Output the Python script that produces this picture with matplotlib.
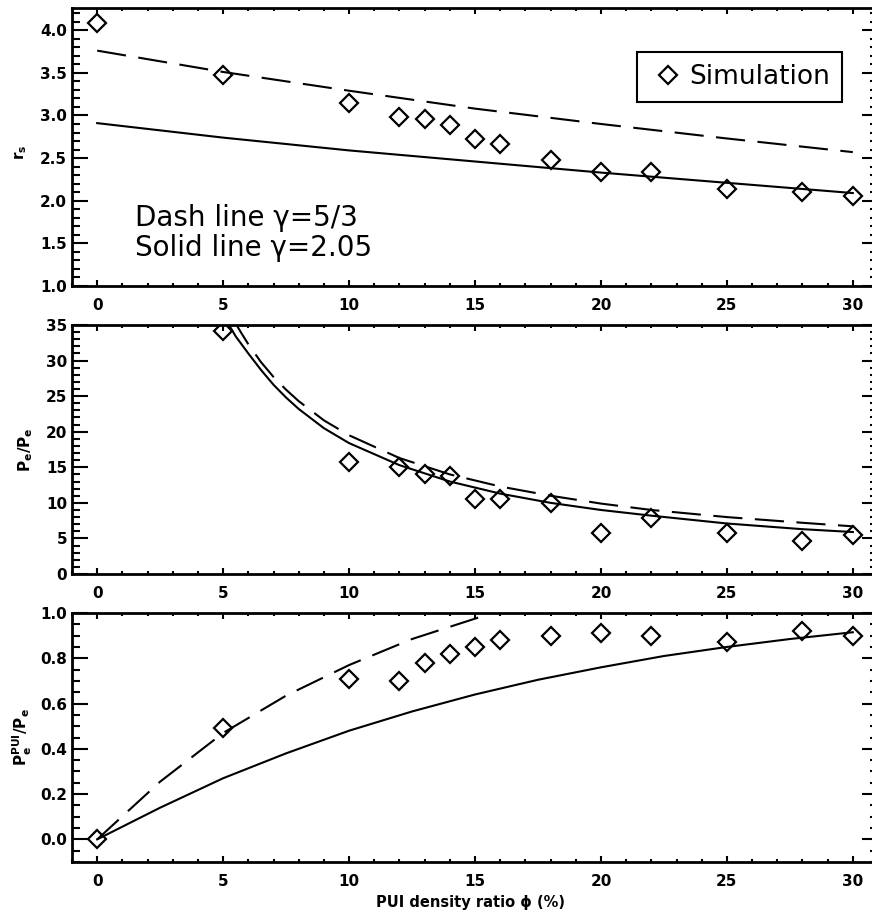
import numpy as np
import matplotlib
matplotlib.use("Agg")
import matplotlib.pyplot as plt
from matplotlib.ticker import MultipleLocator, FormatStrFormatter
from matplotlib.lines import Line2D

plt.rcParams['font.family'] = ['DejaVu Sans']

# ---------------- data ----------------
phi = [0, 5, 10, 12, 13, 14, 15, 16, 18, 20, 22, 25, 28, 30]

# panel 1: shock compression ratio r_s
rs_sim = [4.08, 3.48, 3.15, 2.98, 2.96, 2.89, 2.72, 2.66, 2.48, 2.34, 2.34, 2.14, 2.10, 2.06]
rs_x = [0, 5, 10, 15, 20, 25, 30]
rs_dash = [3.76, 3.51, 3.29, 3.08, 2.90, 2.73, 2.57]
rs_solid = [2.91, 2.74, 2.59, 2.46, 2.33, 2.21, 2.09]

# panel 2: P_e / P_e
pe_sim = [34.1, 15.7, 15.1, 14.1, 13.8, 10.5, 10.6, 10.0, 5.8, 7.9, 5.8, 4.7, 5.5]
pe_sim_x = phi[1:]
pe_solid_x = [5.15, 5.5, 6, 6.5, 7, 7.5, 8, 9, 10, 12, 14, 16, 18, 20, 22, 25, 28, 30]
pe_solid = [35.5, 33.4, 31.0, 28.7, 26.6, 24.8, 23.2, 20.5, 18.4, 15.3, 13.0, 11.3, 10.0, 9.0, 8.2, 7.1, 6.3, 5.9]
pe_dash_x = [5.4, 5.7, 6, 6.5, 7, 7.5, 8, 9, 10, 12, 14, 16, 18, 20, 22, 25, 28, 30]
pe_dash = [35.8, 34.0, 32.3, 29.8, 27.7, 25.9, 24.3, 21.6, 19.5, 16.3, 14.0, 12.3, 11.0, 9.9, 9.0, 8.0, 7.2, 6.7]

# panel 3: P_e^PUI / P_e
pp_sim = [0.0, 0.49, 0.71, 0.70, 0.78, 0.82, 0.85, 0.88, 0.90, 0.91, 0.90, 0.87, 0.92, 0.90]
pp_solid_x = [0, 2.5, 5, 7.5, 10, 12.5, 15, 17.5, 20, 22.5, 25, 27.5, 30]
pp_solid = [0.0, 0.14, 0.27, 0.38, 0.48, 0.565, 0.64, 0.705, 0.76, 0.81, 0.85, 0.885, 0.915]
pp_dash_x = [0, 2.5, 5, 7.5, 10, 12.5, 15, 15.4]
pp_dash = [0.0, 0.255, 0.47, 0.635, 0.77, 0.885, 0.975, 0.99]

xticks = [0, 5, 10, 15, 20, 25, 30]

# ---------------- figure ----------------
W, H = 872, 917
fig = plt.figure(figsize=(W / 100, H / 100), dpi=100)

def px_axes(top, bottom, left=72, right=878):
    return [left / W, 1 - bottom / H, (right - left) / W, (bottom - top) / H]

ax1 = fig.add_axes(px_axes(8, 286))
ax2 = fig.add_axes(px_axes(325, 574))
ax3 = fig.add_axes(px_axes(613, 862))

lw_line = 1.5
dash = (14, 6)

def style(ax, ylim, ymaj, ymin, fmt):
    ax.set_xlim(-1, 31)
    ax.set_ylim(*ylim)
    ax.set_xticks(xticks)
    ax.xaxis.set_minor_locator(MultipleLocator(1))
    ax.yaxis.set_major_locator(MultipleLocator(ymaj))
    ax.yaxis.set_minor_locator(MultipleLocator(ymin))
    ax.yaxis.set_major_formatter(FormatStrFormatter(fmt))
    for s in ax.spines.values():
        s.set_linewidth(2.0)
    ax.tick_params(axis='both', which='both', direction='in', top=True, right=True, width=1.5)
    ax.tick_params(axis='x', which='major', length=4.5, pad=9)
    ax.tick_params(axis='x', which='minor', length=2.3)
    ax.tick_params(axis='y', which='major', length=11.5, pad=3.5)
    ax.tick_params(axis='y', which='minor', length=5.8)
    for lab in ax.get_xticklabels() + ax.get_yticklabels():
        lab.set_fontweight('bold')
        lab.set_fontsize(11)

mk = dict(marker='D', markersize=9.5, markerfacecolor='none', markeredgecolor='black',
          markeredgewidth=1.6, linestyle='none')

# panel 1
ax1.plot(rs_x, rs_dash, color='black', lw=lw_line, dashes=dash)
ax1.plot(rs_x, rs_solid, color='black', lw=lw_line)
ax1.plot(phi, rs_sim, **mk)
style(ax1, (1.0, 4.26), 0.5, 0.1, '%.1f')
tx = (135 - 72) / 806 * 32 - 1
ax1.text(tx, 1.0 + (286 - 226) / 85.3, 'Dash line γ=5/3',
         fontsize=20, ha='left', va='baseline')
ax1.text(tx, 1.0 + (286 - 256) / 85.3, 'Solid line γ=2.05',
         fontsize=20, ha='left', va='baseline')
handle = Line2D([], [], **mk)
leg = ax1.legend([handle], ['Simulation'], loc='upper right',
                 bbox_to_anchor=(842 / W, 1 - 52 / H), bbox_transform=fig.transFigure,
                 borderaxespad=0, fancybox=False, frameon=True, fontsize=19,
                 handlelength=1.45, handletextpad=0.07, borderpad=0.45, numpoints=1,
                 framealpha=1)
leg.get_frame().set_edgecolor('black')
leg.get_frame().set_linewidth(1.5)

# panel 2
ax2.plot(pe_dash_x, pe_dash, color='black', lw=lw_line, dashes=dash)
ax2.plot(pe_solid_x, pe_solid, color='black', lw=lw_line)
ax2.plot(pe_sim_x, pe_sim, **mk)
style(ax2, (0, 35), 5, 1, '%d')

# panel 3
ax3.plot(pp_dash_x, pp_dash, color='black', lw=lw_line, dashes=dash)
ax3.plot(pp_solid_x, pp_solid, color='black', lw=lw_line)
ax3.plot(phi, pp_sim, **mk)
style(ax3, (-0.1, 1.0), 0.2, 0.05, '%.1f')

# y labels
fig.text(21 / W, 1 - 152 / H, r'$\mathbf{r_s}$', rotation=90, ha='center', va='center', fontsize=11)
fig.text(26 / W, 1 - 450 / H, r'$\mathbf{P_e/P_e}$', rotation=90, ha='center', va='center', fontsize=11)
fig.text(22 / W, 1 - 737 / H, r'$\mathbf{P_e^{PUI}/P_e}$', rotation=90, ha='center', va='center', fontsize=11)

# x label
fig.text(470 / W, 1 - 902 / H, 'PUI density ratio ϕ (%)', ha='center', va='center',
         fontsize=10.5, fontweight='bold')

fig.savefig('out.png', dpi=100)
